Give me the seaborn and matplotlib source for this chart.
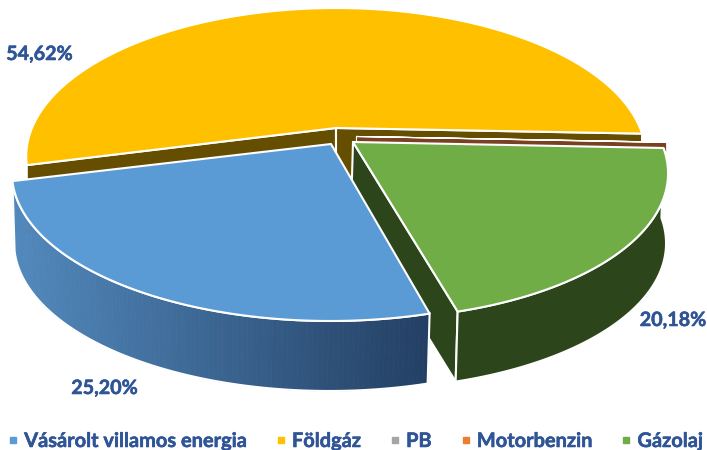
import numpy as np
import matplotlib
matplotlib.use('Agg')
import matplotlib.pyplot as plt
import matplotlib.patheffects as pe
from matplotlib.lines import Line2D
from matplotlib.colors import to_rgb
import seaborn as sns

categories = ['Vásárolt villamos energia', 'Földgáz', 'PB', 'Motorbenzin', 'Gázolaj']
values = [25.20, 54.62, 0.01, 0.03, 20.18]
labelled = [True, True, False, False, True]

# styling
top_colors = sns.color_palette(['#5B9BD5', '#FFC000', '#A5A5A5', '#ED7D31', '#70AD47'])
wall_colors = ['#3a6690', '#664e00', '#6b6b6b', '#7a4022', '#2c451b']
text_color = '#2F5597'
blue_left, blue_right = '#5289bd', '#233f63'

# layout of each slice on the canvas (pixels): tip x, tip y, width, shear, lean, shift
centers = [(331, 144, 313, -0.005, 0.99, -1), (336, 128, 304, 0.0, 1.0, 0), (356.5, 136.5, 308, 0.0, 1.0, 0),
           (356.5, 136.5, 308, 0.0, 1.0, 0), (353, 142, 308, 0.04, 1.0, -2)]
label_pos = [(104.5, 388), (39.5, 54), None, None, (673, 320)]
start_angle = -75.0
persp = 0.192
k_y = 143
thick = 70
sliver_thick = 10

sns.set_theme(style='white')
plt.rcParams['font.family'] = ['Lato', 'DejaVu Sans']


def project(ang, c, r=1.0):
    u = r * np.cos(np.radians(ang))
    v = r * np.sin(np.radians(ang))
    w = 1 + persp * v
    y = -k_y * v / w
    x = c[2] * u / w + c[3] * y
    return c[0] + x, c[1] + y


def lower(x, y, c, h=thick):
    return c[0] + (np.asarray(x) - c[0]) * c[4] + c[5], np.asarray(y) + h


def radial_wall(ax, ang, c, color, h=thick, lw=1.5):
    x, y = project(ang, c)
    bx, by = lower(x, y, c, h)
    tx, ty = lower(c[0], c[1], c, h)
    ax.fill([c[0], x, bx, tx], [c[1], y, by, ty], facecolor=color, edgecolor='white', lw=lw, joinstyle='round')


def outer_wall(ax, a0, a1, c, color=None, grad=None):
    angs = np.linspace(a0, a1, 120)
    x, y = project(angs, c)
    bx, by = lower(x, y, c)
    if grad is None:
        ax.fill(np.r_[x, bx[::-1]], np.r_[y, by[::-1]], facecolor=color, edgecolor='white', lw=1.5)
        return
    left, right = np.array(to_rgb(grad[0])), np.array(to_rgb(grad[1]))
    lo, hi = min(x.min(), bx.min()), max(x.max(), bx.max())
    for i in range(len(angs) - 1):
        t = ((x[i] + x[i + 1]) / 2 - lo) / (hi - lo)
        col = left + (right - left) * t
        ax.fill([x[i], x[i + 1], bx[i + 1], bx[i]], [y[i], y[i + 1], by[i + 1], by[i]],
                facecolor=col, edgecolor=col, lw=0.6)
    ax.fill(np.r_[x, bx[::-1]], np.r_[y, by[::-1]], facecolor='none', edgecolor='white', lw=1.5)


def top_face(ax, a0, a1, c, color, lw=1.5):
    angs = np.linspace(a0, a1, 240)
    x, y = project(angs, c)
    ax.fill(np.r_[c[0], x], np.r_[c[1], y], facecolor=color, edgecolor='white', lw=lw, joinstyle='round')


fig, ax = plt.subplots(figsize=(7.07, 4.5), dpi=100)
fig.subplots_adjust(0, 0, 1, 1)
ax.set_xlim(0, 707)
ax.set_ylim(450, 0)
ax.axis('off')

# slices run clockwise from the start angle
sweep = np.array(values) / sum(values) * 360
edges = start_angle - np.r_[0, np.cumsum(sweep)]
a0 = edges[:-1]
a1 = edges[1:]

# yellow at the back
radial_wall(ax, a0[1], centers[1], wall_colors[1])
radial_wall(ax, a1[1], centers[1], wall_colors[1])
top_face(ax, a0[1], a1[1], centers[1], top_colors[1])

# the two very thin slices
for i in (2, 3):
    radial_wall(ax, a1[i], centers[i], wall_colors[3], h=sliver_thick, lw=0.8)
    top_face(ax, a0[i], a1[i], centers[i], top_colors[i], lw=0.8)

# green
radial_wall(ax, a1[4], centers[4], wall_colors[4])
outer_wall(ax, a0[4], a1[4], centers[4], color=wall_colors[4])
top_face(ax, a0[4], a1[4], centers[4], top_colors[4])

# blue in front
outer_wall(ax, a0[0], a1[0], centers[0], grad=(blue_left, blue_right))
top_face(ax, a0[0], a1[0], centers[0], top_colors[0])

# a thin stroke, Lato bold comes out lighter than the original font
thicker = [pe.withStroke(linewidth=0.4, foreground=text_color)]

for v, show, pos in zip(values, labelled, label_pos):
    if show:
        ax.text(pos[0], pos[1], f'{v:.2f}%'.replace('.', ','), color=text_color, fontsize=14.2,
                fontweight='bold', ha='center', va='center', path_effects=thicker)

handles = [Line2D([], [], marker='s', ls='none', color=c, markersize=5) for c in top_colors]
leg = ax.legend(handles, categories, loc='center', bbox_to_anchor=(355 / 707, 1 - 441 / 450), ncol=5, frameon=False,
                prop={'weight': 'bold', 'size': 14.4}, labelcolor=text_color, handlelength=0.6, handletextpad=0.25,
                columnspacing=1.4, borderpad=0, borderaxespad=0)
for t in leg.get_texts():
    t.set_path_effects(thicker)

plt.savefig('out.png', dpi=100)
